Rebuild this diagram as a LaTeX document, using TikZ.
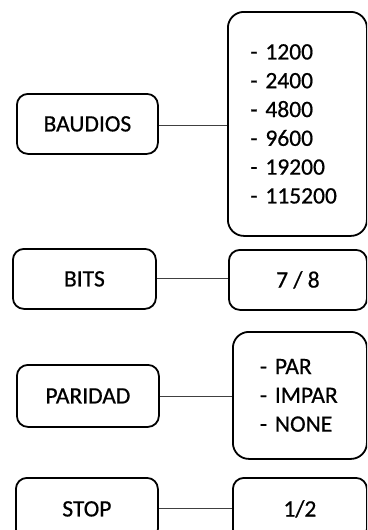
\documentclass[tikz,border=0pt]{standalone}
\usepackage{fontspec}
\setmainfont{Carlito}[FakeBold=0.6]
\begin{document}
\begin{tikzpicture}[x=1pt,y=-1pt,
  lbox/.style={draw=black,line width=1.8pt,rounded corners=11pt,inner sep=0pt,anchor=north west,font=\fontsize{23.5}{28}\selectfont},
  rbox/.style={draw=black,line width=1.8pt,rounded corners=16pt,inner sep=0pt,anchor=north west,font=\fontsize{23.5}{28.8}\selectfont},
  link/.style={draw=black!75,line width=1.1pt}]
\useasboundingbox (0,0) rectangle (367,530);
\clip (0,0) rectangle (367,530);
% BAUDIOS
\node[lbox,minimum width=141pt,minimum height=60pt] (baud) at (16,93) {BAUDIOS};
\node[rbox,minimum width=139pt,minimum height=224pt,align=left,text width=90pt,inner xsep=0pt] (baudR) at (227,11) {\hspace*{-2pt}- 1200\\\hspace*{-2pt}- 2400\\\hspace*{-2pt}- 4800\\\hspace*{-2pt}- 9600\\\hspace*{-2pt}- 19200\\\hspace*{-2pt}- 115200};
% BITS
\node[lbox,minimum width=143pt,minimum height=60pt] (bits) at (12,248) {BITS};
\node[rbox,rounded corners=11pt,minimum width=138pt,minimum height=60pt] (bitsR) at (228,249) {7 / 8};
% PARIDAD
\node[lbox,minimum width=142pt,minimum height=62pt] (par) at (16,364) {PARIDAD};
\node[rbox,minimum width=134pt,minimum height=127pt,align=left,text width=80pt] (parR) at (232,331) {- PAR\\- IMPAR\\- NONE};
% STOP
\node[lbox,minimum width=142pt,minimum height=62pt] (stop) at (15,477) {STOP};
\node[rbox,rounded corners=11pt,minimum width=134pt,minimum height=62pt] (stopR) at (232,477) {1/2};
% connectors
\draw[link] ([yshift=-2pt]baud.east) -- ([yshift=-2pt]baud.east -| baudR.west);
\draw[link] (bits.east) -- (bits.east -| bitsR.west);
\draw[link] ([yshift=-1pt]par.east) -- ([yshift=-1pt]par.east -| parR.west);
\draw[link] (stop.east) -- (stop.east -| stopR.west);
\end{tikzpicture}
\end{document}
